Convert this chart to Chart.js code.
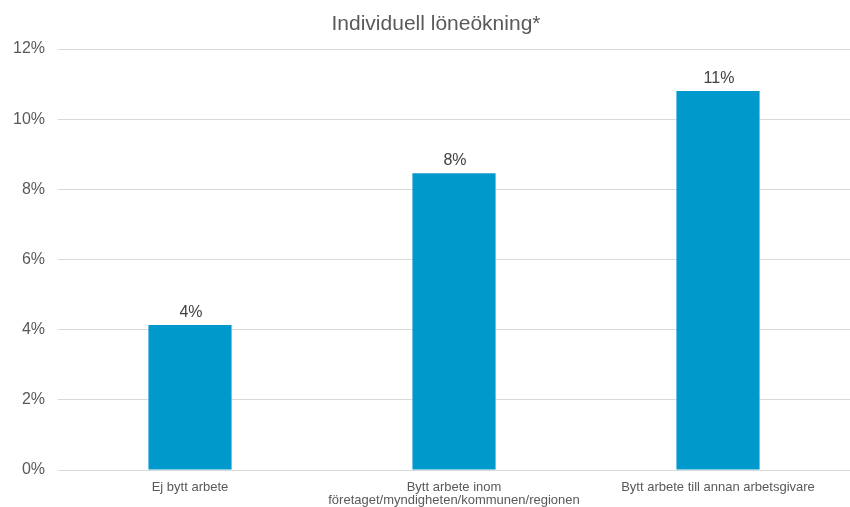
<!DOCTYPE html>
<html lang="sv">
<head>
    <meta charset="UTF-8">
    <title>Individuell löneökning</title>
    <script src="https://cdn.jsdelivr.net/npm/chart.js"></script>
    <style>
        html, body { margin: 0; padding: 0; background: #ffffff; }
        #wrap { width: 850px; height: 507px; }
    </style>
</head>
<body>
    <div id="wrap"><canvas id="loneChart" width="850" height="507"></canvas></div>

    <script>
        // Data
        const rubrik = 'Individuell löneökning*';
        const kategorier = [
            'Ej bytt arbete',
            ['Bytt arbete inom', 'företaget/myndigheten/kommunen/regionen'],
            'Bytt arbete till annan arbetsgivare'
        ];
        const loneokning = [4.13, 8.46, 10.8];
        const etiketter = ['4%', '8%', '11%'];

        const typsnitt = '"Liberation Sans", Arial, sans-serif';

        // Rubrik och värden ovanför staplarna
        const egnaTexter = {
            id: 'egnaTexter',
            afterDatasetsDraw(chart) {
                const ctx = chart.ctx;
                const meta = chart.getDatasetMeta(0);
                ctx.save();
                ctx.textAlign = 'center';
                ctx.textBaseline = 'middle';
                ctx.fillStyle = '#595959';
                ctx.font = '21px ' + typsnitt;
                ctx.fillText(rubrik, 436, 24);

                ctx.font = '16px ' + typsnitt;
                ctx.fillStyle = '#404040';
                ctx.textBaseline = 'bottom';
                meta.data.forEach((bar, i) => {
                    ctx.fillText(etiketter[i], bar.x + 1, bar.y - 5);
                });
                ctx.restore();
            }
        };

        const ctx = document.getElementById('loneChart').getContext('2d');
        new Chart(ctx, {
            type: 'bar',
            data: {
                labels: kategorier,
                datasets: [{
                    data: loneokning,
                    backgroundColor: '#0099cc',
                    barPercentage: 0.315,
                    categoryPercentage: 1
                }]
            },
            options: {
                responsive: false,
                animation: false,
                layout: { padding: { left: 0, right: 0, top: 49, bottom: 0 } },
                plugins: {
                    legend: { display: false },
                    tooltip: { enabled: false },
                    title: { display: false }
                },
                scales: {
                    x: {
                        afterFit(scale) { scale.height = 37; },
                        grid: { display: false, drawTicks: false },
                        border: { color: '#d9d9d9' },
                        ticks: {
                            color: '#595959',
                            font: { family: typsnitt, size: 13, lineHeight: 1.0 },
                            maxRotation: 0,
                            autoSkip: false,
                            padding: 11
                        }
                    },
                    y: {
                        min: 0,
                        max: 12,
                        afterFit(scale) { scale.width = 58; },
                        grid: { color: '#d9d9d9', drawTicks: false },
                        border: { display: false },
                        ticks: {
                            stepSize: 2,
                            padding: 13,
                            color: '#595959',
                            font: { family: typsnitt, size: 16 },
                            callback: v => v + '%'
                        }
                    }
                }
            },
            plugins: [egnaTexter]
        });
    </script>
</body>
</html>
